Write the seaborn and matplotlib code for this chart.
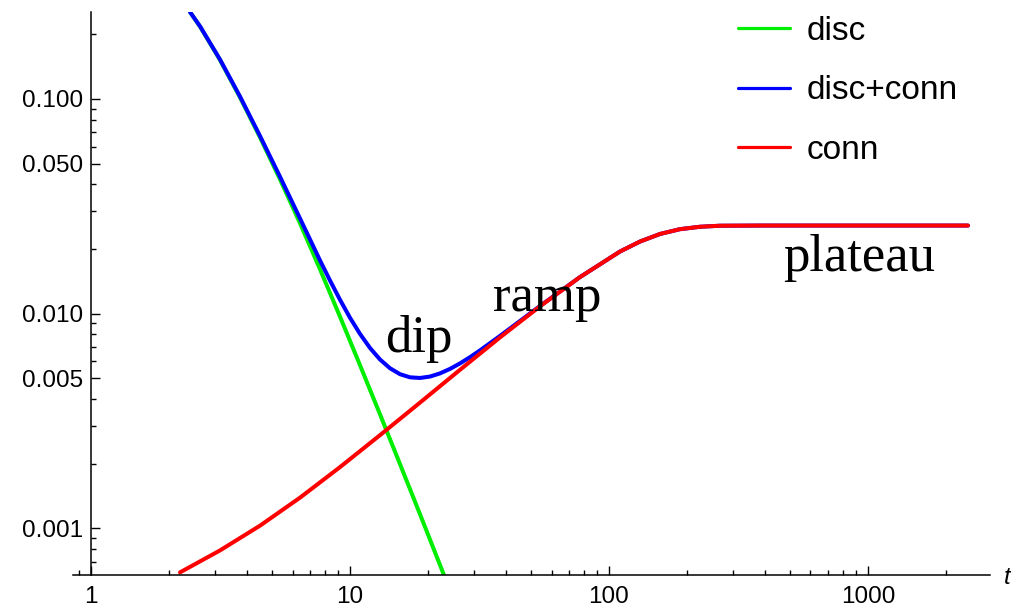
import numpy as np
import pandas as pd
import matplotlib
matplotlib.use("Agg")
import matplotlib.pyplot as plt
import matplotlib.ticker as mticker
import seaborn as sns

# ---- data ----
disc_t = [2.411, 2.635, 3.148, 3.762, 4.492, 5.367, 6.412, 7.659, 9.150, 10.93, 13.06, 15.60, 18.64, 22.26, 23.27]
disc_y = [0.2539, 0.2174, 0.1518, 0.1016, 0.06622, 0.04222, 0.02636, 0.01610, 0.009684, 0.005760, 0.003398,
          0.001993, 0.001164, 0.0006762, 0.0005897]

both_t = [2.411, 2.635, 3.148, 3.762, 4.492, 5.367, 6.412, 7.659, 8.372, 9.150, 10.0, 10.93, 11.95, 13.06, 14.27,
          15.60, 17.05, 18.64, 20.37, 22.26, 24.33, 26.59, 29.06, 31.76, 37.95, 45.34, 54.15, 77.28, 110.3,
          131.8, 157.4, 188.0, 224.6, 268.3, 382.9, 2433.0]
both_y = [0.2539, 0.2179, 0.1526, 0.1025, 0.06723, 0.04341, 0.02775, 0.01770, 0.01427, 0.01161, 0.009571,
          0.008051, 0.006920, 0.006117, 0.005571, 0.005227, 0.005054, 0.005019, 0.005096, 0.005271, 0.005531,
          0.005867, 0.006272, 0.006745, 0.007877, 0.009250, 0.01086, 0.01480, 0.01947, 0.02167, 0.02350,
          0.02474, 0.02539, 0.02567, 0.02572, 0.02572]

conn_t = [2.206, 3.148, 4.492, 6.412, 9.150, 13.06, 18.64, 26.59, 37.95, 54.15, 77.28, 110.3, 131.8, 157.4,
          188.0, 224.6, 268.3, 382.9, 2433.0]
conn_y = [0.0006243, 0.0007900, 0.001030, 0.001391, 0.001930, 0.002719, 0.003855, 0.005477, 0.007751, 0.01082,
          0.01480, 0.01947, 0.02167, 0.02350, 0.02474, 0.02539, 0.02567, 0.02572, 0.02572]

series_names = ["disc", "disc+conn", "conn"]
series_colors = ["#00ee00", "#0000ff", "#ff0000"]

x_major = [1, 10, 100, 1000]
x_minor = [0.9, 2, 3, 4, 5, 6, 7, 8, 9, 20, 30, 40, 50, 60, 70, 80, 90,
           200, 300, 400, 500, 600, 700, 800, 900, 2000]
y_major = [0.001, 0.005, 0.010, 0.050, 0.100]
y_labels = ["0.001", "0.005", "0.010", "0.050", "0.100"]
y_minor = [0.0007, 0.0008, 0.0009, 0.002, 0.003, 0.004, 0.006, 0.007, 0.008, 0.009,
           0.02, 0.03, 0.04, 0.06, 0.07, 0.08, 0.09, 0.2]

annotations = [("dip", 13.66, 0.00666), ("ramp", 35.65, 0.01025), ("plateau", 469.8, 0.01573)]

df = pd.concat([
    pd.DataFrame({"t": disc_t, "value": disc_y, "series": "disc"}),
    pd.DataFrame({"t": both_t, "value": both_y, "series": "disc+conn"}),
    pd.DataFrame({"t": conn_t, "value": conn_y, "series": "conn"}),
], ignore_index=True)

sns.set_style("white")
plt.rcParams["font.family"] = ["Liberation Sans", "DejaVu Sans"]
plt.rcParams["text.color"] = "black"
plt.rcParams["legend.labelcolor"] = "black"

fig = plt.figure(figsize=(10.12, 6.09), dpi=100)
ax = fig.add_axes([73 / 1012, 34 / 609, (990 - 73) / 1012, (575 - 11.7) / 609])

sns.lineplot(data=df, x="t", y="value", hue="series", hue_order=series_names,
             palette=dict(zip(series_names, series_colors)), linewidth=2.9,
             estimator=None, sort=True, ax=ax)

ax.set_xscale("log")
ax.set_yscale("log")
ax.set_xlim(0.852, 2960)
ax.set_ylim(0.000607, 0.2547)

for s in ["top", "right"]:
    ax.spines[s].set_visible(False)
ax.spines["left"].set_position(("data", 1))
for s in ["left", "bottom"]:
    ax.spines[s].set_color("black")
    ax.spines[s].set_linewidth(1.1)

ax.xaxis.set_major_locator(mticker.FixedLocator(x_major))
ax.xaxis.set_minor_locator(mticker.FixedLocator(x_minor))
ax.xaxis.set_major_formatter(mticker.FixedFormatter([str(v) for v in x_major]))
ax.xaxis.set_minor_formatter(mticker.NullFormatter())
ax.yaxis.set_major_locator(mticker.FixedLocator(y_major))
ax.yaxis.set_minor_locator(mticker.FixedLocator(y_minor))
ax.yaxis.set_major_formatter(mticker.FixedFormatter(y_labels))
ax.yaxis.set_minor_formatter(mticker.NullFormatter())

ax.tick_params(axis="both", which="both", direction="in", color="black", width=1.0, labelsize=17.5,
               labelcolor="black", bottom=True, left=True, top=False, right=False)
ax.tick_params(axis="both", which="major", length=6.5)
ax.tick_params(axis="both", which="minor", length=3.6)
ax.tick_params(axis="x", which="both", pad=8)
ax.tick_params(axis="y", which="both", pad=6)
ax.set_xlabel("")
ax.set_ylabel("")
ax.grid(False)

for txt, tx, ty in annotations:
    ax.text(tx, ty, txt, fontsize=38, family=["Liberation Serif", "DejaVu Serif"],
            ha="left", va="baseline", color="black")

leg = ax.legend(loc="upper left", bbox_to_anchor=(738 / 1012, 1 - 16 / 609), bbox_transform=fig.transFigure,
                frameon=False, fontsize=24, handlelength=1.55, handletextpad=0.5, labelspacing=0.85,
                borderpad=0, borderaxespad=0, title=None)
for line in leg.get_lines():
    line.set_linewidth(2.3)
for text in leg.get_texts():
    text.set_color("black")

fig.text(1004 / 1012, 1 - 577 / 609, "t", fontsize=17.5, style="italic", ha="left", va="center")

fig.savefig("out.png", dpi=100)
